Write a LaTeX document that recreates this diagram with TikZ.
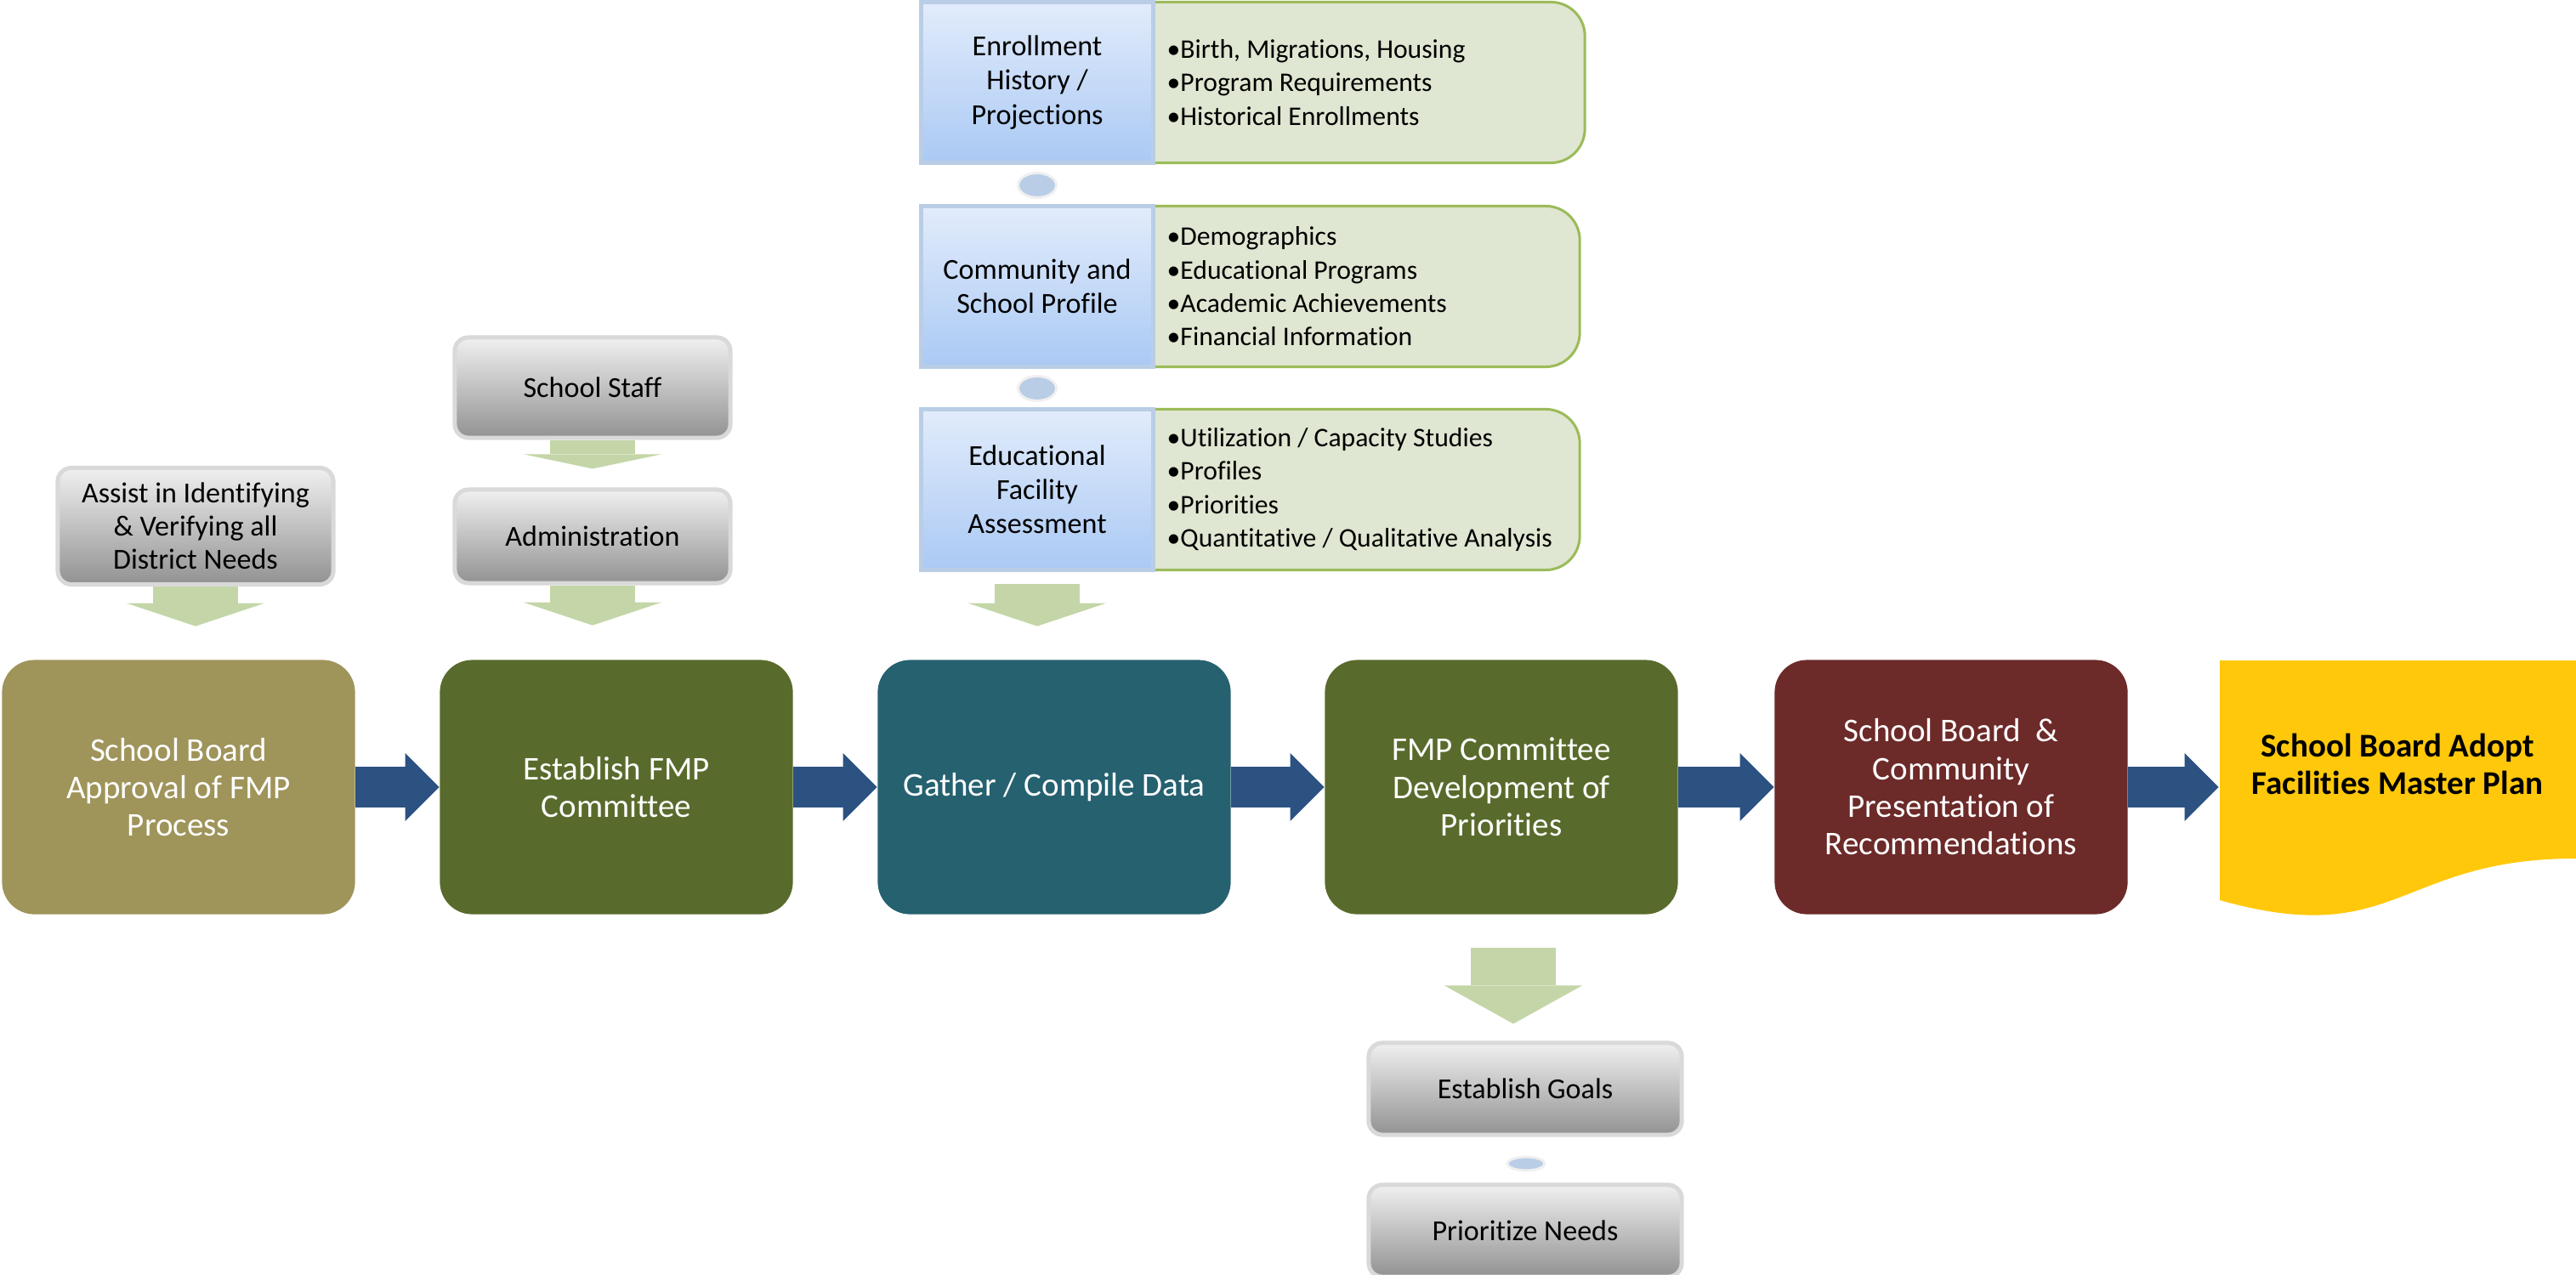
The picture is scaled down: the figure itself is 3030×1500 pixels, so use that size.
\documentclass[tikz,border=0pt]{standalone}
\usepackage{fontspec}
\setmainfont{Carlito}[Ligatures=NoCommon]
\usetikzlibrary{arrows.meta,calc,shapes.geometric}

\definecolor{olivebox}{RGB}{159,148,90}
\definecolor{grassbox}{RGB}{89,107,44}
\definecolor{tealbox}{RGB}{38,97,112}
\definecolor{winebox}{RGB}{108,42,41}
\definecolor{goldbox}{RGB}{255,200,10}
\definecolor{navyarrow}{RGB}{44,82,130}
\definecolor{sagearrow}{RGB}{196,214,168}
\definecolor{paleblue}{RGB}{226,236,251}
\definecolor{midblue}{RGB}{170,201,244}
\definecolor{blueline}{RGB}{185,205,230}
\definecolor{listfill}{RGB}{223,230,209}
\definecolor{listline}{RGB}{155,187,89}
\definecolor{greytop}{RGB}{240,240,240}
\definecolor{greybot}{RGB}{146,146,146}
\definecolor{greyline}{RGB}{217,217,217}

\tikzset{
  mainbox/.style={rounded corners=0.38cm, minimum width=4.15cm, minimum height=2.99cm,
    text=white, align=center, font=\fontsize{11.1}{12.6}\selectfont},
  greybox/.style={draw=greyline, line width=0.05cm, rounded corners=0.16cm,
    top color=greytop, bottom color=greybot, minimum width=3.24cm,
    align=center, font=\fontsize{9.7}{11.1}\selectfont},
  bluebox/.style={draw=blueline, line width=0.05cm, top color=paleblue, bottom color=midblue,
    minimum width=2.72cm, minimum height=1.89cm, align=center,
    font=\fontsize{9.7}{11.4}\selectfont},
  listbox/.style={draw=listline, line width=0.03cm, fill=listfill, rounded corners=0.4cm,
    minimum height=1.89cm},
  bullets/.style={anchor=west, align=left, inner sep=0pt, font=\fontsize{9}{11.2}\selectfont},
  linkdot/.style={ellipse, fill=blueline, draw=greytop, line width=0.03cm,
    minimum width=0.45cm, minimum height=0.29cm, inner sep=0pt},
  flowarrow/.style={draw=navyarrow, line width=0.48cm,
    -{Triangle[length=0.4cm, width=0.8cm, line width=0pt]}},
  downarrow/.style={draw=sagearrow, line width=1cm,
    -{Triangle[length=#1, width=1.62cm, line width=0pt]}},
  downarrow/.default=0.27cm
}

\begin{document}
\begin{tikzpicture}[x=0.01cm, y=-0.01cm]
\useasboundingbox (0,0) rectangle (3030,1500);

\node[mainbox, fill=olivebox] (mid0) at (210,926){School Board\\Approval of FMP\\Process};
\node[mainbox, fill=grassbox] (mid1) at (725,926){Establish FMP\\Committee};
\node[mainbox, fill=tealbox] (mid2) at (1240,926){Gather / Compile Data};
\node[mainbox, fill=grassbox] (mid3) at (1766,926){FMP Committee\\Development of\\Priorities};
\node[mainbox, fill=winebox] (mid4) at (2295,926){School Board\ \ \&\\Community\\Presentation of\\Recommendations};
\fill[goldbox] (2611,777) -- (3030,777) -- (3030,1010) .. controls (2820,1010) and (2820,1118) .. (2611,1059) -- cycle;
\node[align=center, minimum width=4.19cm, font=\bfseries\fontsize{11.1}{12.3}\selectfont] (mid5) at (2820,899){School Board Adopt\\Facilities Master Plan};
\draw[flowarrow] (mid0) -- (mid1);
\draw[flowarrow] (mid1) -- (mid2);
\draw[flowarrow] (mid2) -- (mid3);
\draw[flowarrow] (mid3) -- (mid4);
\draw[flowarrow] (mid4) -- (mid4 -| mid5.west);

\node[greybox, minimum height=1.37cm] (gid0) at (230,619){Assist in Identifying\\\& Verifying all\\District Needs};
\node[greybox, minimum height=1.18cm] (gid1) at (697,456){School Staff};
\node[greybox, minimum height=1.10cm] (gid2) at (697,631){Administration};
\node[greybox, minimum width=3.68cm, minimum height=1.08cm] (gid3) at (1794,1281){Establish Goals};
\node[greybox, minimum width=3.68cm, minimum height=1.08cm] (gid4) at (1794,1448){Prioritize Needs};
\node[linkdot, minimum width=0.44cm, minimum height=0.16cm] (did2) at (1795,1369){};

\node[listbox, minimum width=5.64cm] (lid0) at (1582,97){};
\node[listbox, minimum width=5.58cm] (lid1) at (1579,337){};
\node[listbox, minimum width=5.58cm] (lid2) at (1579,576){};
\node[bluebox] (bid0) at (1220,97){Enrollment\\History /\\Projections};
\node[bluebox] (bid1) at (1220,337){Community and\\School Profile};
\node[bluebox] (bid2) at (1220,576){Educational\\Facility\\Assessment};
\node[linkdot] (did0) at (1220,218){};
\node[linkdot] (did1) at (1220,457){};
\node[bullets] (tid0) at (1372,97){•Birth, Migrations, Housing\\•Program Requirements\\•Historical Enrollments};
\node[bullets] (tid1) at (1372,337){•Demographics\\•Educational Programs\\•Academic Achievements\\•Financial Information};
\node[bullets] (tid2) at (1372,576){•Utilization / Capacity Studies\\•Profiles\\•Priorities\\•Quantitative / Qualitative Analysis};

\draw[downarrow, shorten >=0.39cm] (gid0.south) -- (gid0.south |- mid0.north);
\draw[downarrow=0.17cm, shorten >=0.22cm] (gid1) -- (gid2);
\draw[downarrow, shorten >=0.40cm] (gid2.south) -- (gid2.south |- mid1.north);
\draw[downarrow, shorten <=0.14cm, shorten >=0.39cm] (bid2.south) -- (bid2.south |- mid2.north);
\draw[downarrow=0.45cm, shorten <=0.39cm, shorten >=0.20cm] ($(mid3.south)!0.5!(mid3.south -| gid3.north)$) -- ($(gid3.north)!0.5!(gid3.north -| mid3.south)$);
\end{tikzpicture}
\end{document}
